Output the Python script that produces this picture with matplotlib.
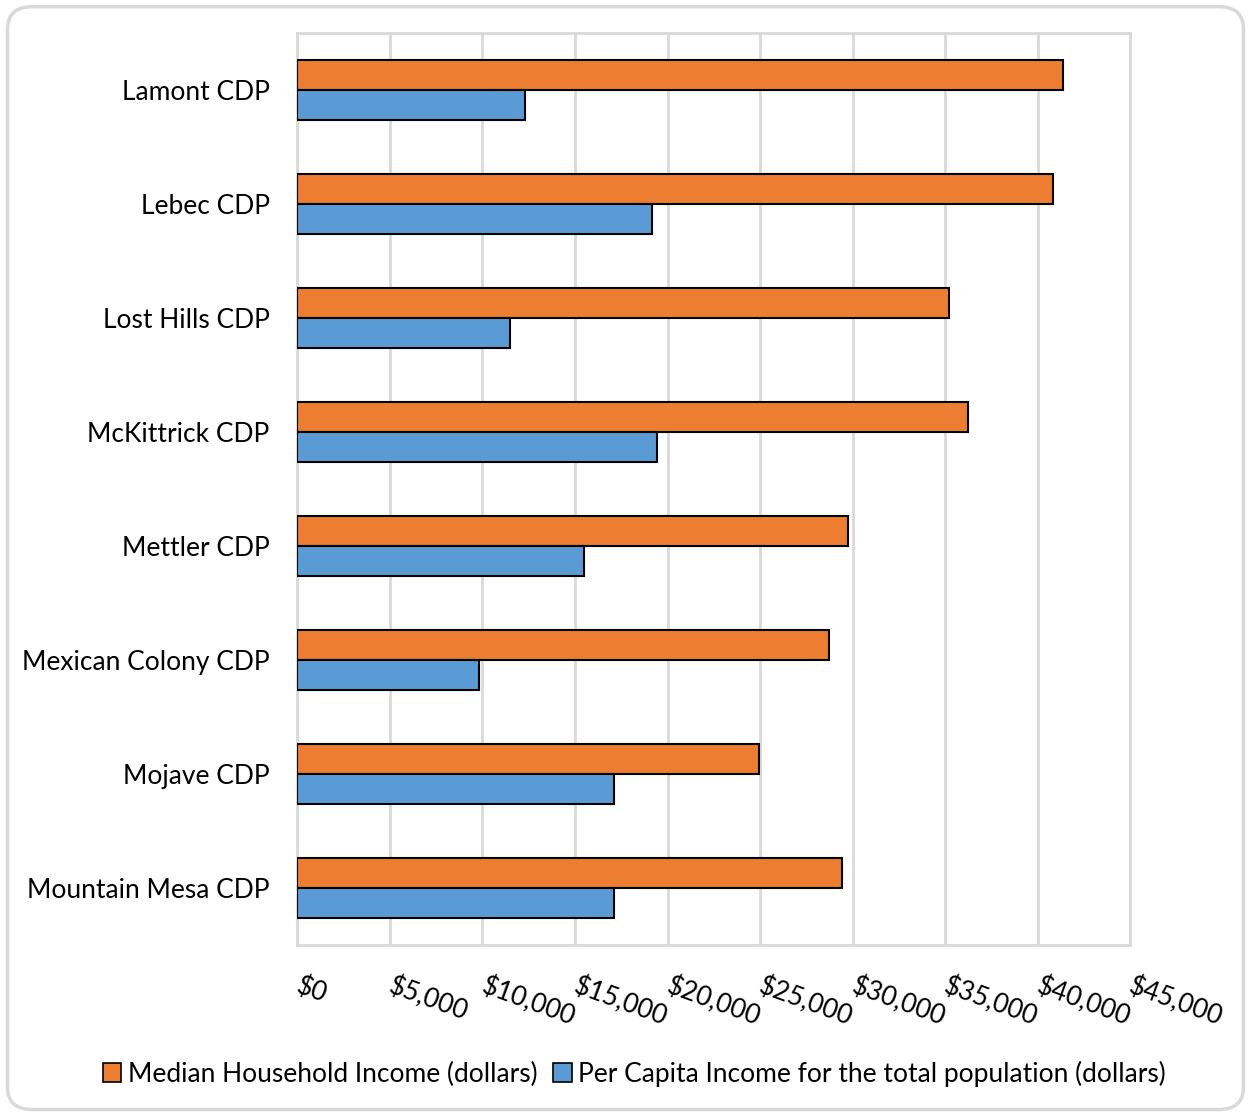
import matplotlib
matplotlib.use("Agg")
import matplotlib.pyplot as plt
from matplotlib.patches import FancyBboxPatch, Patch
from matplotlib.ticker import FuncFormatter, MultipleLocator
import numpy as np

categories = ["Lamont CDP", "Lebec CDP", "Lost Hills CDP", "McKittrick CDP",
              "Mettler CDP", "Mexican Colony CDP", "Mojave CDP", "Mountain Mesa CDP"]
median_household = [41370, 40810, 35200, 36240, 29750, 28720, 24940, 29420]
per_capita = [12300, 19150, 11470, 19420, 15470, 9790, 17090, 17090]
series_names = ["Median Household Income (dollars)",
                "Per Capita Income for the total population (dollars)"]

plt.rcParams['font.family'] = ['Lato', 'DejaVu Sans']
FS = 19

fig = plt.figure(figsize=(12.51, 11.14), dpi=100)
ax = fig.add_axes([0.2378, 0.1517, 0.6655, 0.8187])

n = len(categories)
y = np.arange(n)
h = 0.263
orange = "#ED7D31"
blue = "#5B9BD5"
ax.barh(y - h/2, median_household, height=h, color=orange, edgecolor="black", linewidth=1.5, zorder=3)
ax.barh(y + h/2, per_capita, height=h, color=blue, edgecolor="black", linewidth=1.5, zorder=3)

ax.set_ylim(n - 0.5, -0.5)
ax.set_xlim(0, 45000)
ax.set_yticks(y)
ax.set_yticklabels(categories, fontsize=FS)
ax.xaxis.set_major_locator(MultipleLocator(5000))
ax.xaxis.set_major_formatter(FuncFormatter(lambda v, p: f"${v:,.0f}"))
ax.tick_params(axis='both', length=0)
ax.tick_params(axis='y', pad=20)
ax.tick_params(axis='x', pad=29)
for lbl in ax.get_xticklabels():
    lbl.set_rotation(-20)
    lbl.set_rotation_mode('anchor')
    lbl.set_ha('left')
    lbl.set_va('center')
    lbl.set_fontsize(FS)
ax.grid(axis='x', color="#d9d9d9", linewidth=2, zorder=0)
for s in ax.spines.values():
    s.set_color("#d9d9d9")
    s.set_linewidth(2)

handles = [Patch(facecolor=orange, edgecolor="black", linewidth=1.2),
           Patch(facecolor=blue, edgecolor="black", linewidth=1.2)]
fig.legend(handles, series_names, loc='center', bbox_to_anchor=(0.507, 0.036),
           ncol=2, frameon=False, fontsize=FS, handlelength=0.7, handleheight=0.7,
           handletextpad=0.25, columnspacing=0.6)

border = FancyBboxPatch((0.006, 0.004), 0.988, 0.99, boxstyle="round,pad=0,rounding_size=0.02",
                        transform=fig.transFigure, facecolor="none", edgecolor="#d9d9d9",
                        linewidth=2.5, zorder=0)
fig.patches.append(border)

fig.savefig("out.png", dpi=100)
